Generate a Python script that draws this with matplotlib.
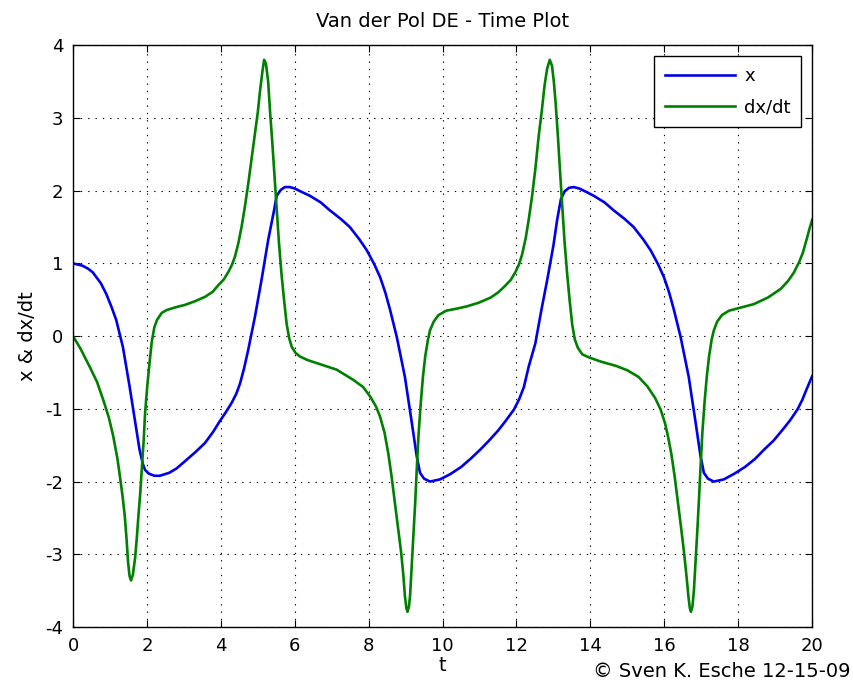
import matplotlib
matplotlib.use('Agg')
import matplotlib.pyplot as plt

# values
t_x = [0.0, 0.25, 0.4, 0.53, 0.75, 0.9, 1.05, 1.17, 1.35, 1.53, 1.66, 1.8, 1.89, 1.95,
       2.05, 2.2, 2.35, 2.6, 2.8, 3.03, 3.3, 3.57, 3.8, 3.97, 4.13, 4.29, 4.42, 4.52,
       4.63, 4.74, 4.92, 5.1, 5.28, 5.44, 5.51, 5.62, 5.73, 5.87, 6.0, 6.2, 6.41, 6.7,
       6.95, 7.25, 7.49, 7.75, 7.95, 8.15, 8.31, 8.45, 8.58, 8.76, 8.98, 9.17, 9.3, 9.39,
       9.5, 9.66, 9.93, 10.2, 10.5, 10.75, 11.02, 11.25, 11.5, 11.7, 11.93, 12.07, 12.2,
       12.33, 12.51, 12.67, 12.83, 13.0, 13.1, 13.2, 13.3, 13.42, 13.55, 13.7, 13.9,
       14.09, 14.38, 14.63, 14.93, 15.17, 15.43, 15.63, 15.83, 15.99, 16.13, 16.26,
       16.44, 16.66, 16.85, 16.98, 17.07, 17.18, 17.34, 17.61, 17.9, 18.18, 18.45, 18.7,
       18.95, 19.18, 19.4, 19.6, 19.73, 19.85, 20.0]
x_vals = [1.0, 0.97, 0.93, 0.88, 0.73, 0.58, 0.39, 0.22, -0.15, -0.69, -1.11, -1.56,
          -1.76, -1.84, -1.89, -1.92, -1.92, -1.88, -1.82, -1.72, -1.6, -1.47, -1.31,
          -1.17, -1.05, -0.92, -0.79, -0.65, -0.44, -0.19, 0.26, 0.77, 1.32, 1.73, 1.93,
          2.01, 2.05, 2.05, 2.03, 1.98, 1.93, 1.84, 1.73, 1.61, 1.5, 1.33, 1.18, 0.99,
          0.81, 0.6, 0.36, -0.01, -0.56, -1.2, -1.65, -1.88, -1.96, -2.0, -1.97, -1.9,
          -1.8, -1.69, -1.56, -1.44, -1.3, -1.17, -1.01, -0.87, -0.7, -0.42, -0.1, 0.35,
          0.77, 1.25, 1.6, 1.88, 1.99, 2.04, 2.05, 2.03, 1.98, 1.93, 1.84, 1.73, 1.61,
          1.5, 1.33, 1.18, 0.99, 0.81, 0.6, 0.36, -0.01, -0.56, -1.2, -1.65, -1.88, -1.96,
          -2.0, -1.97, -1.89, -1.8, -1.69, -1.56, -1.44, -1.3, -1.16, -1.01, -0.88, -0.73,
          -0.55]

t_v = [0.0, 0.2, 0.45, 0.65, 0.82, 0.97, 1.09, 1.2, 1.27, 1.34, 1.4, 1.45, 1.49, 1.53,
       1.57, 1.62, 1.68, 1.73, 1.77, 1.82, 1.86, 1.91, 1.95, 2.01, 2.07, 2.13, 2.2, 2.27,
       2.4, 2.54, 2.8, 3.03, 3.3, 3.57, 3.78, 3.93, 4.08, 4.2, 4.3, 4.38, 4.47, 4.56,
       4.65, 4.74, 4.83, 4.92, 5.0, 5.06, 5.12, 5.17, 5.22, 5.28, 5.33, 5.39, 5.45, 5.51,
       5.57, 5.64, 5.71, 5.78, 5.85, 5.92, 6.02, 6.14, 6.35, 6.59, 7.13, 7.58, 7.85,
       8.04, 8.2, 8.31, 8.43, 8.53, 8.62, 8.71, 8.8, 8.88, 8.94, 8.98, 9.02, 9.05, 9.09,
       9.12, 9.16, 9.21, 9.26, 9.3, 9.35, 9.41, 9.47, 9.53, 9.6, 9.66, 9.76, 9.89, 10.1,
       10.4, 10.66, 10.98, 11.3, 11.5, 11.65, 11.84, 11.97, 12.07, 12.15, 12.25, 12.33,
       12.42, 12.51, 12.6, 12.68, 12.76, 12.83, 12.9, 12.96, 13.01, 13.06, 13.12, 13.18,
       13.24, 13.3, 13.37, 13.44, 13.51, 13.58, 13.66, 13.78, 13.95, 14.28, 14.7, 15.0,
       15.3, 15.54, 15.75, 15.9, 16.02, 16.1, 16.19, 16.28, 16.37, 16.45, 16.53, 16.6,
       16.65, 16.69, 16.72, 16.76, 16.8, 16.84, 16.89, 16.94, 16.98, 17.03, 17.09, 17.15,
       17.21, 17.28, 17.34, 17.43, 17.56, 17.75, 18.05, 18.42, 18.8, 19.15, 19.35, 19.5,
       19.65, 19.75, 19.85, 19.93, 20.0]
v_vals = [0.0, -0.17, -0.42, -0.63, -0.88, -1.12, -1.38, -1.68, -1.93, -2.2, -2.47, -2.8,
          -3.11, -3.3, -3.36, -3.28, -3.05, -2.75, -2.47, -2.15, -1.84, -1.45, -1.06,
          -0.68, -0.37, -0.08, 0.12, 0.22, 0.32, 0.36, 0.4, 0.43, 0.48, 0.54, 0.61, 0.7,
          0.78, 0.88, 0.98, 1.09, 1.27, 1.5, 1.78, 2.09, 2.43, 2.78, 3.08, 3.37, 3.62, 3.8,
          3.75, 3.5, 3.1, 2.68, 2.22, 1.77, 1.3, 0.86, 0.5, 0.17, -0.03, -0.15, -0.23,
          -0.28, -0.33, -0.37, -0.46, -0.6, -0.7, -0.83, -0.97, -1.11, -1.33, -1.61, -1.93,
          -2.29, -2.64, -2.98, -3.3, -3.57, -3.74, -3.79, -3.72, -3.57, -3.2, -2.75, -2.28,
          -1.84, -1.35, -0.92, -0.55, -0.28, -0.06, 0.08, 0.2, 0.29, 0.35, 0.38, 0.41,
          0.46, 0.53, 0.6, 0.67, 0.77, 0.88, 0.99, 1.12, 1.35, 1.6, 1.92, 2.3, 2.75, 3.08,
          3.45, 3.68, 3.8, 3.72, 3.5, 3.2, 2.75, 2.25, 1.78, 1.3, 0.86, 0.48, 0.15, -0.05,
          -0.16, -0.25, -0.29, -0.35, -0.41, -0.47, -0.56, -0.69, -0.85, -1.01, -1.2,
          -1.38, -1.62, -1.93, -2.29, -2.62, -2.96, -3.3, -3.57, -3.74, -3.79, -3.72, -3.5,
          -3.15, -2.7, -2.22, -1.8, -1.32, -0.9, -0.55, -0.28, -0.05, 0.08, 0.2, 0.29,
          0.35, 0.39, 0.44, 0.53, 0.65, 0.76, 0.87, 1.02, 1.15, 1.33, 1.48, 1.6]

plt.rcParams['font.family'] = ['DejaVu Sans']
plt.rcParams['axes.unicode_minus'] = False

fig = plt.figure(figsize=(8.54, 6.86), dpi=100)
ax = fig.add_axes([0.0855, 0.086, 0.8655, 0.848])

ax.plot(t_x, x_vals, color=(0, 0, 0.92), lw=1.9, label='x')
ax.plot(t_v, v_vals, color=(0, 0.5, 0), lw=1.9, label='dx/dt')

ax.set_xlim(0, 20)
ax.set_ylim(-4, 4)
ax.set_xticks(range(0, 21, 2))
ax.set_yticks(range(-4, 5))
ax.grid(True, color='black', linestyle=(0, (1.2, 5.4)), linewidth=0.8)
ax.tick_params(direction='in', top=True, right=True, labelsize=13, length=5, pad=7)
for s in ax.spines.values():
    s.set_linewidth(1.0)

ax.set_title('Van der Pol DE - Time Plot', fontsize=14, pad=13)
ax.set_xlabel('t', fontsize=14, labelpad=1)
ax.set_ylabel('x & dx/dt', fontsize=14, labelpad=6)
fig.text(0.996, 0.008, '\u00a9 Sven K. Esche 12-15-09', ha='right', va='bottom', fontsize=14)

leg = ax.legend(loc='upper right', fontsize=13, fancybox=False, edgecolor='black',
                framealpha=1, handlelength=3.9, handletextpad=0.5, labelspacing=0.75,
                borderpad=0.6, borderaxespad=0.6)
leg.get_frame().set_linewidth(1.0)

fig.savefig('out.png', dpi=100)
